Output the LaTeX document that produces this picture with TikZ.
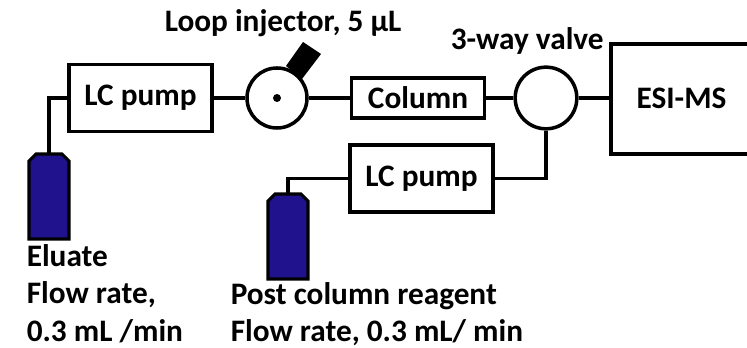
\documentclass[tikz,border=0pt]{standalone}
\usepackage{fontspec}
\setmainfont{Carlito}
\usetikzlibrary{calc,positioning}
\definecolor{bottleblue}{rgb}{0.12,0.07,0.55}

\begin{document}
\begin{tikzpicture}[
    x=0.03cm,
    y=0.03cm,
    line width=3pt,
    font=\fontsize{26.7}{32}\selectfont\bfseries,
    unit/.style={draw, rectangle, minimum height=#1, inner sep=0pt},
    valve/.style={draw, circle, minimum size=#1, inner sep=0pt},
    bottle/.style={draw, line width=2.6pt, fill=bottleblue},
    caption/.style={anchor=base west, align=left, inner sep=0pt}
  ]
  \useasboundingbox (0,0) rectangle (747,348);

  % units
  \node[unit=2cm, minimum width=4.3cm] (pumpA) at (140.5,250) {LC pump};
  \node[unit=1.2cm, minimum width=4cm] (column) at (418,250) {Column};
  \node[unit=2cm, minimum width=4.3cm] (pumpB) at (421.5,169.5) {LC pump};
  \node[valve=1.8cm] (injector) at (277,250) {};
  \node[valve=1.85cm] (threeway) at (546,250) {};
  \node[inner sep=0pt] (esi) at (681.5,250) {ESI-MS};

  % ms box runs off the page
  \draw (747,304) -- (611,304) -- (611,194) -- (747,194);
  \coordinate (esiport) at (611,250);

  % bottles
  \foreach \x/\y/\nam in {49/194/eluate, 288/154/reagent}{
    \coordinate (\nam) at (\x,\y);
    \draw[bottle] (\x-20,\y-85) -- (\x-20,\y-7) -- (\x-13,\y) -- (\x+13,\y) -- (\x+20,\y-7) -- (\x+20,\y-85) -- cycle;
  }

  % injector handle and dot
  \fill (303,306) -- (321,294) -- (302,269) -- (286,282) -- cycle;
  \fill (injector.center) circle (4);

  % tubing
  \draw (eluate) |- (pumpA.west);
  \draw (pumpA.east) -- (injector.west);
  \draw (injector.east) -- (column.west);
  \draw (column.east) -- (threeway.west);
  \draw (threeway.east) -- (esiport);
  \draw (reagent) |- (pumpB.west);
  \draw (pumpB.east) -| (threeway.south);

  % labels
  \node[caption] (looplabel) at (163,316) {Loop injector, 5 µL};
  \node[caption] (valvelabel) at (449,298) {3-way valve};
  \node[caption, anchor=north west] (eluatelabel) at (25,105.5) {Eluate\\Flow rate,\\0.3 mL /min};
  \node[caption, anchor=north west] (reagentlabel) at (229,67.5) {Post column reagent\\Flow rate, 0.3 mL/ min};
\end{tikzpicture}
\end{document}
